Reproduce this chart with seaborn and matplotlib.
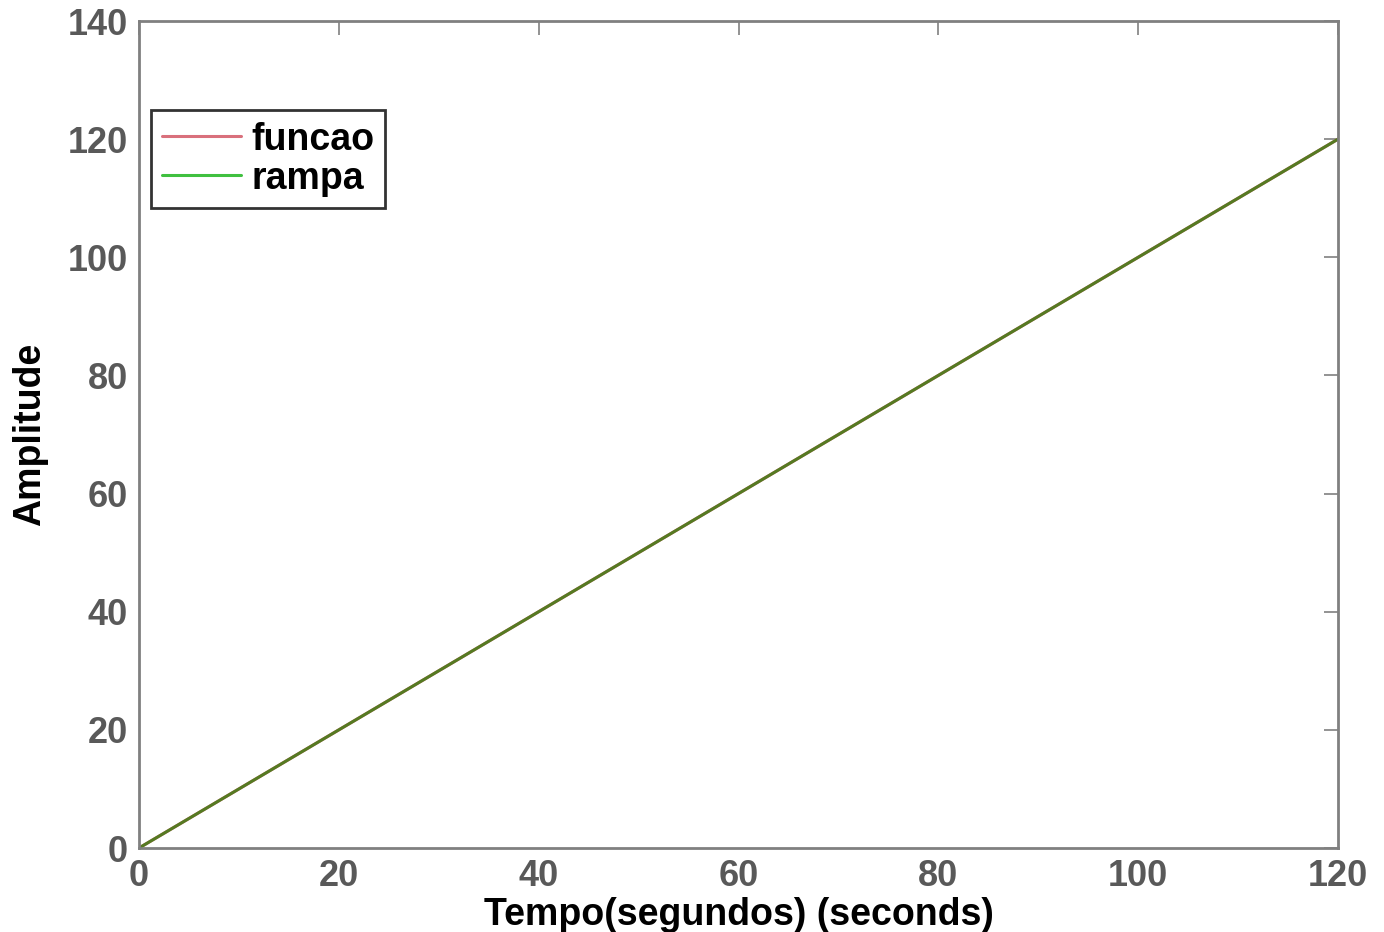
import matplotlib
matplotlib.use("Agg")
from matplotlib import pyplot as plt
import pandas as pd
import seaborn as sns

# data: input ramp and response, both equal to time
tempo = [0, 20, 40, 60, 80, 100, 120]
funcao = [0, 20, 40, 60, 80, 100, 120]
rampa = [0, 20, 40, 60, 80, 100, 120]
x_ticks = [0, 20, 40, 60, 80, 100, 120]
y_ticks = [0, 20, 40, 60, 80, 100, 120, 140]

df = pd.DataFrame({'tempo': tempo, 'funcao': funcao, 'rampa': rampa})

sns.set_style("white")
plt.rcParams['font.family'] = ['Liberation Sans', 'DejaVu Sans']
plt.rcParams['font.weight'] = 'bold'

fig = plt.figure(figsize=(13.84, 9.32), dpi=100)
ax = fig.add_axes([139 / 1384, 1 - 848 / 932, (1338 - 139) / 1384, (848 - 21) / 932])

sns.lineplot(data=df, x='tempo', y='funcao', ax=ax, color='#d9707c',
             linewidth=2.2, label='funcao')
sns.lineplot(data=df, x='tempo', y='rampa', ax=ax, color='#3a9a2a',
             linewidth=2.2, label='rampa')
# the overlapping line looks olive in the original
ax.lines[1].set_color('#557a22')

ax.set_xlim(0, 120)
ax.set_ylim(0, 140)
ax.set_xticks(x_ticks)
ax.set_yticks(y_ticks)
ax.tick_params(direction='in', length=10, width=1.2, colors='#808080',
               top=True, right=True, labelsize=26, labelcolor='#595959', pad=8)
for lab in ax.get_xticklabels() + ax.get_yticklabels():
    lab.set_fontweight('bold')
for sp in ax.spines.values():
    sp.set_color('#808080')
    sp.set_linewidth(2)

ax.set_xlabel('Tempo(segundos) (seconds)', fontsize=27, fontweight='bold',
              color='black', labelpad=2)
ax.set_ylabel('Amplitude', fontsize=27, fontweight='bold', color='black',
              labelpad=14)

leg = ax.legend(loc='upper left', bbox_to_anchor=(0.01, 0.892), fontsize=27,
                frameon=True, fancybox=False, handlelength=2.1,
                handletextpad=0.27, borderpad=0.3, labelspacing=0.08,
                borderaxespad=0)
leg.get_frame().set_edgecolor('black')
leg.get_frame().set_linewidth(2)
leg.get_lines()[0].set_color('#d9707c')
leg.get_lines()[1].set_color('#40c040')
for t in leg.get_texts():
    t.set_fontweight('bold')
    t.set_color('black')

fig.savefig('out.png', dpi=100)
plt.close(fig)
